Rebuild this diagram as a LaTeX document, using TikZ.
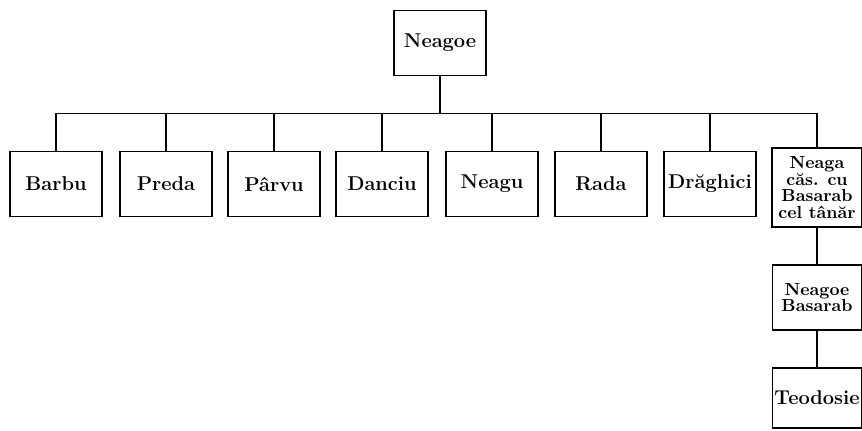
\documentclass[tikz,border=0pt]{standalone}
\usepackage{tikz}
\usetikzlibrary{positioning}

\begin{document}
\begin{tikzpicture}[
  x=0.6pt, y=-0.6pt,
  box/.style={rectangle, draw, line width=1.1pt, minimum width=92*0.6pt, minimum height=65*0.6pt, align=center, inner sep=1pt, font=\fontsize{12}{11}\selectfont\bfseries},
  small/.style={font=\fontsize{10.5}{10}\selectfont\bfseries},
  link/.style={line width=1.1pt}
]
  \useasboundingbox (0,0) rectangle (862,430);

  % Root
  \node[box] (neagoe) at (440,43) {Neagoe};

  % Children
  \node[box] (barbu) at (56,184) {Barbu};
  \node[box] (preda) at (166,184) {Preda};
  \node[box] (parvu) at (274,184) {Pârvu};
  \node[box] (danciu) at (382,184) {Danciu};
  \node[box] (neagu) at (492,184) {Neagu};
  \node[box] (rada) at (601,184) {Rada};
  \node[box] (draghici) at (710,184) {Drăghici};
  \node[box, small, minimum width=90*0.6pt, minimum height=79*0.6pt, inner sep=0pt] (neaga) at (817,187.5) {Neaga\\căs. cu\\Basarab\\cel tânăr};

  % Descendants
  \node[box, small, minimum width=89*0.6pt] (basarab) at (817,297.5) {Neagoe\\Basarab};
  \node[box, minimum width=89*0.6pt, minimum height=60*0.6pt] (teodosie) at (817,398) {Teodosie};

  \foreach \c in {barbu, preda, parvu, danciu, neagu, rada, draghici, neaga}
    \draw[link] (neagoe.south) -- ++(0,37) -| (\c.north);
  \draw[link] (neaga) -- (basarab);
  \draw[link] (basarab) -- (teodosie);
\end{tikzpicture}
\end{document}
